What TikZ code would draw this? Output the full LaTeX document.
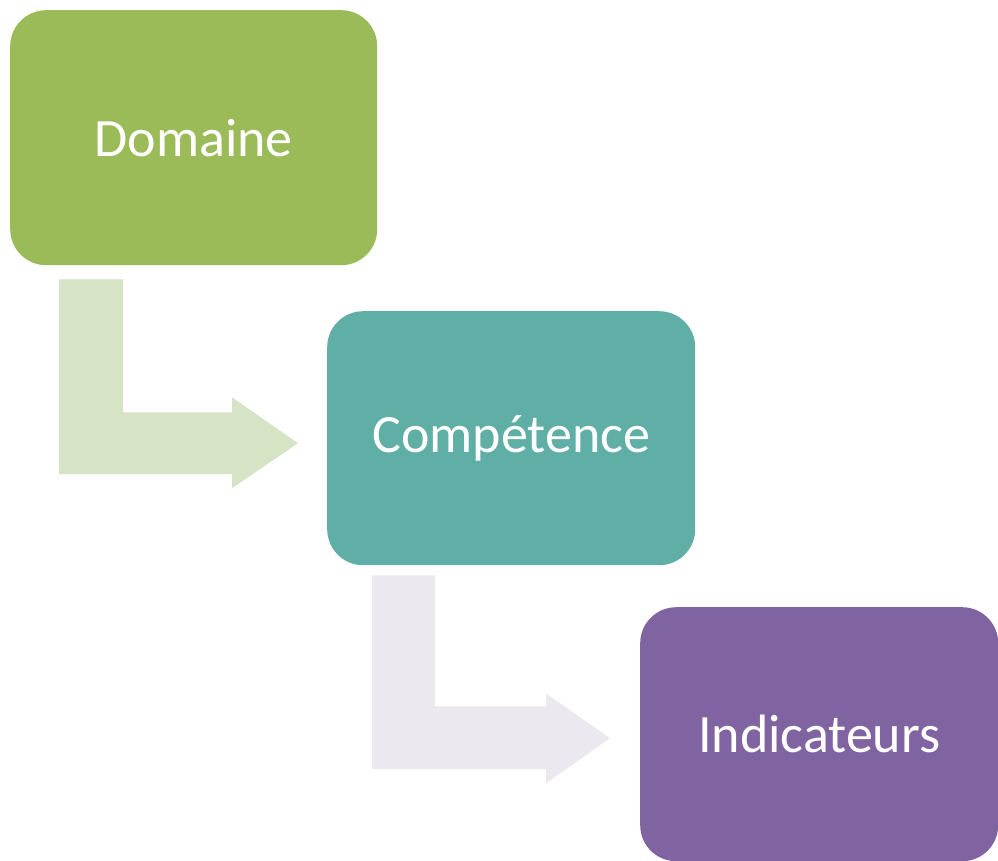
\documentclass[tikz,border=0pt]{standalone}
\usepackage{fontspec}
\setmainfont{Carlito}
\usetikzlibrary{calc}
\definecolor{cgreen}{HTML}{9BBB59}
\definecolor{cteal}{HTML}{5FAFA6}
\definecolor{cpurple}{HTML}{8064A2}
\definecolor{lgreen}{HTML}{D7E3C5}
\definecolor{lpurple}{HTML}{EBE9EF}
\begin{document}
\begin{tikzpicture}[x=1pt,y=-1pt,
  box/.style={rounded corners=36pt, inner sep=0pt, text=white,
    font=\fontsize{54}{60}\selectfont},
  bent/.style={draw=none}]
\useasboundingbox (0,0) rectangle (998,861);
\fill[white] (0,0) rectangle (998,861);
% boxes
\node[box, fill=cgreen, minimum width=367pt, minimum height=255pt, anchor=north west] (dom) at (10,10) {Domaine};
\node[box, fill=cteal, minimum width=368pt, minimum height=254pt, anchor=north west] (comp) at (327,311) {Compétence};
\node[box, fill=cpurple, minimum width=358pt, minimum height=254pt, anchor=north west] (ind) at (640,607) {Indicateurs};
% bent arrows
\fill[lgreen] ($(dom.south west)+(49,14)$) -- ++(64,0) -- ++(0,133) -- ++(109,0) -- ++(0,-15)
  -- ($(comp.west)+(-29,5)$) -- ++(-66,45) -- ++(0,-14) -- ++(-173,0) -- cycle;
\fill[lpurple] ($(comp.south west)+(45,10)$) -- ++(63,0) -- ++(0,131) -- ++(111,0) -- ++(0,-13)
  -- ($(ind.west)+(-30,4)$) -- ++(-64,45) -- ++(0,-14) -- ++(-174,0) -- cycle;
\end{tikzpicture}
\end{document}
